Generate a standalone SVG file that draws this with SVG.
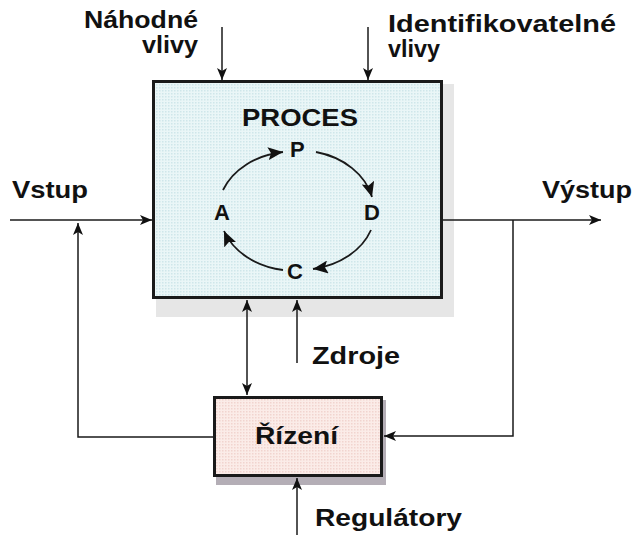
<svg xmlns="http://www.w3.org/2000/svg" width="634" height="535" viewBox="0 0 634 535">
  <defs>
    <marker id="head" viewBox="0 0 12 10" refX="12" refY="5" markerWidth="12" markerHeight="10" markerUnits="userSpaceOnUse" orient="auto-start-reverse">
      <path d="M0 0 L12 5 L0 10 L3 5 Z" fill="#111"/>
    </marker>
    <marker id="cyc" viewBox="0 0 15 13" refX="15" refY="6.5" markerWidth="15" markerHeight="13" markerUnits="userSpaceOnUse" orient="auto">
      <path d="M0 0 L15 6.5 L0 13 L3 6.5 Z" fill="#111"/>
    </marker>
    <pattern id="dotsBlue" width="3" height="3" patternUnits="userSpaceOnUse">
      <rect width="3" height="3" fill="#eaf6f7"/>
      <rect width="1.5" height="1.5" fill="#cfe6ea"/>
    </pattern>
    <pattern id="dotsPink" width="3" height="3" patternUnits="userSpaceOnUse">
      <rect width="3" height="3" fill="#fbece8"/>
      <rect width="1.5" height="1.5" fill="#f1d4cf"/>
    </pattern>
  </defs>
  <style>
    text { font-family: "Liberation Sans", Arial, sans-serif; font-weight: bold; fill: #111; }
    .lbl { font-size: 23px; }
    .title { font-size: 23px; }
    .pdca { font-size: 22px; }
    .box { stroke: #1a1a1a; stroke-width: 3; }
    .wire { fill: none; stroke: #1a1a1a; stroke-width: 1.5; }
    .cycle { fill: none; stroke: #1a1a1a; stroke-width: 1.8; }
  </style>

  <!-- process block -->
  <g id="proces">
    <rect x="156" y="84" width="298" height="233" fill="#e6e6e6"/>
    <rect x="153.5" y="81.5" width="288" height="216" class="box" fill="url(#dotsBlue)"/>
    <text class="title" x="242" y="126" textLength="116" lengthAdjust="spacingAndGlyphs">PROCES</text>
    <text class="pdca" x="290" y="157">P</text>
    <text class="pdca" x="364" y="220">D</text>
    <text class="pdca" x="287" y="279">C</text>
    <text class="pdca" x="214" y="220">A</text>
    <g id="pdca-cycle">
      <path class="cycle" d="M223 190 A75 60 0 0 1 283 152" marker-end="url(#cyc)"/>
      <path class="cycle" d="M316 152 A75 60 0 0 1 372 197" marker-end="url(#cyc)"/>
      <path class="cycle" d="M371 230 A75 60 0 0 1 313 269" marker-end="url(#cyc)"/>
      <path class="cycle" d="M283 270 A75 60 0 0 1 224 231" marker-end="url(#cyc)"/>
    </g>
  </g>

  <!-- control block -->
  <g id="rizeni">
    <rect x="216" y="400" width="170" height="85" fill="#b4aeb6"/>
    <rect x="214.5" y="397.5" width="167" height="78" class="box" fill="url(#dotsPink)"/>
    <text class="lbl" x="255" y="444" textLength="83" lengthAdjust="spacingAndGlyphs">Řízení</text>
  </g>

  <!-- labels -->
  <g id="labels">
    <text class="lbl" x="84" y="28" textLength="114" lengthAdjust="spacingAndGlyphs">Náhodné</text>
    <text class="lbl" x="142" y="53" textLength="56" lengthAdjust="spacingAndGlyphs">vlivy</text>
    <text class="lbl" x="388" y="32" textLength="228" lengthAdjust="spacingAndGlyphs">Identifikovatelné</text>
    <text class="lbl" x="388" y="57" textLength="52" lengthAdjust="spacingAndGlyphs">vlivy</text>
    <text class="lbl" x="12" y="198" textLength="76" lengthAdjust="spacingAndGlyphs">Vstup</text>
    <text class="lbl" x="542" y="198" textLength="90" lengthAdjust="spacingAndGlyphs">Výstup</text>
    <text class="lbl" x="312" y="364" textLength="88" lengthAdjust="spacingAndGlyphs">Zdroje</text>
    <text class="lbl" x="315" y="526" textLength="147" lengthAdjust="spacingAndGlyphs">Regulátory</text>
  </g>

  <!-- connectors -->
  <g id="connectors">
    <path class="wire" d="M222 27 V80" marker-end="url(#head)"/>
    <path class="wire" d="M368 27 V80" marker-end="url(#head)"/>
    <path class="wire" d="M10 220 H152" marker-end="url(#head)"/>
    <path class="wire" d="M443 220 H601" marker-end="url(#head)"/>
    <path class="wire" d="M513 220 V436 H384" marker-end="url(#head)"/>
    <path class="wire" d="M213 437 H78 V223" marker-end="url(#head)"/>
    <path class="wire" d="M247 300 V395" marker-start="url(#head)" marker-end="url(#head)"/>
    <path class="wire" d="M297 363 V300" marker-end="url(#head)"/>
    <path class="wire" d="M297 535 V478" marker-end="url(#head)"/>
  </g>
</svg>
